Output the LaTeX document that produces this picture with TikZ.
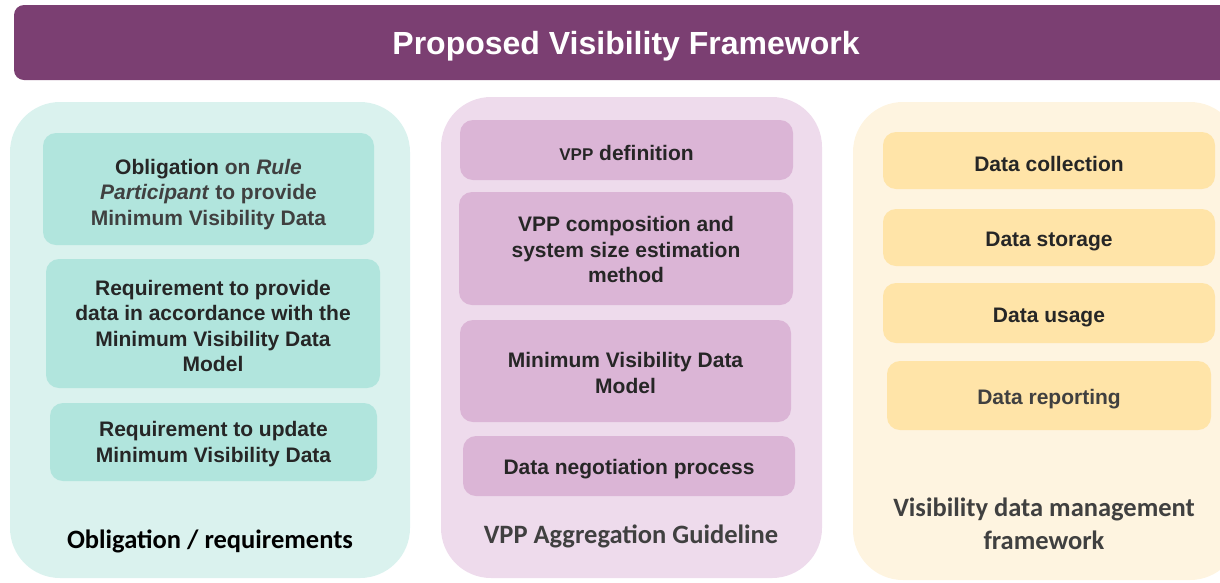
\documentclass[tikz,border=0pt]{standalone}
\usepackage{fontspec}
\setmainfont{Liberation Sans}
\newfontfamily\calib{Carlito}
\definecolor{titlepurple}{HTML}{7B3F72}
\definecolor{tealbg}{HTML}{DAF2EE}
\definecolor{tealbox}{HTML}{B1E5DD}
\definecolor{mauvebg}{HTML}{EEDBEC}
\definecolor{mauvebox}{HTML}{DBB5D6}
\definecolor{sandbg}{HTML}{FEF4E0}
\definecolor{sandbox}{HTML}{FFE4A8}
\definecolor{txtdark}{HTML}{262626}
\definecolor{txtgrey}{HTML}{404040}
\tikzset{
  panel/.style={rounded corners=50pt, inner sep=0pt, draw=none},
  inbox/.style={rounded corners=13pt, inner sep=0pt, align=center, text=txtdark,
    font=\bfseries\fontsize{21}{25.5}\selectfont},
  plabel/.style={align=center, inner sep=0pt, font=\calib\bfseries\fontsize{26.5}{33}\selectfont},
}
\begin{document}
\begin{tikzpicture}[x=1pt,y=-1pt]
\useasboundingbox (0,0) rectangle (1220,582);
\clip (0,0) rectangle (1220,582);
% title
\node[fill=titlepurple, rounded corners=10pt, minimum width=1216pt, minimum height=75pt, inner sep=0pt] (title) at (622,42.5) {};
\node[text=white, font=\bfseries\fontsize{32}{34}\selectfont] (titletxt) at (626,46) {Proposed Visibility Framework};
% left panel
\node[panel, fill=tealbg, minimum width=400pt, minimum height=476pt] (lp) at (210,340) {};
\node[inbox, fill=tealbox, minimum width=331pt, minimum height=112pt] (o1) at (208.5,189) {};
\node[inbox, fill=none] (o1t) at (208.5,194.5)
  {Obligation \textcolor{txtgrey}{on \textit{Rule}}\\ \textcolor{txtgrey}{\textit{Participant} to provide}\\ \textcolor{txtgrey}{Minimum Visibility Data}};
\node[inbox, fill=tealbox, minimum width=334pt, minimum height=129pt] (o2) at (213,323.5) {};
\node[inbox, fill=none] (o2t) at (213,326)
  {Requirement to provide\\ data in accordance with the\\ Minimum Visibility Data\\ Model};
\node[inbox, fill=tealbox, minimum width=327pt, minimum height=78pt] (o3) at (213.5,442) {};
\node[inbox, fill=none] (o3t) at (213.5,444)
  {Requirement to update\\ Minimum Visibility Data};
\node[plabel, text=black] (ol) at (210,541) {Obligation / requirements};
% middle panel
\node[panel, fill=mauvebg, minimum width=381pt, minimum height=481pt] (mp) at (631.5,337.5) {};
\node[inbox, fill=mauvebox, minimum width=333pt, minimum height=60pt] (v1) at (626.5,150) {};
\node[inbox, fill=none] (v1t) at (626.5,152.5)
  {{\fontsize{17}{20}\selectfont VPP} definition};
\node[inbox, fill=mauvebox, minimum width=334pt, minimum height=113pt] (v2) at (626,248.5) {};
\node[inbox, fill=none] (v2t) at (626,249.5)
  {VPP composition and\\ system size estimation\\ method};
\node[inbox, fill=mauvebox, minimum width=331pt, minimum height=102pt] (v3) at (625.5,371) {};
\node[inbox, fill=none] (v3t) at (625.5,373)
  {Minimum Visibility Data\\ Model};
\node[inbox, fill=mauvebox, minimum width=332pt, minimum height=60pt] (v4) at (629,466) {};
\node[inbox, fill=none] (v4t) at (629,469) {Data negotiation process};
\node[plabel, text=txtgrey] (ml) at (631,536) {VPP Aggregation Guideline};
% right panel
\node[panel, fill=sandbg, minimum width=387pt, minimum height=478pt] (rp) at (1046.5,341) {};
\node[inbox, fill=sandbox, minimum width=332pt, minimum height=57pt] (r1) at (1049,160.5) {};
\node[inbox, fill=none] (r1t) at (1049,164) {Data collection};
\node[inbox, fill=sandbox, minimum width=332pt, minimum height=57pt] (r2) at (1049,237.5) {};
\node[inbox, fill=none] (r2t) at (1049,241) {Data storage};
\node[inbox, fill=sandbox, minimum width=332pt, minimum height=60pt] (r3) at (1049,313) {};
\node[inbox, fill=none] (r3t) at (1049,317) {Data usage};
\node[inbox, fill=sandbox, minimum width=324pt, minimum height=69pt] (r4) at (1049,395.5) {};
\node[inbox, fill=none, text=txtgrey] (r4t) at (1049,399) {Data reporting};
\node[plabel, text=txtgrey] (rl) at (1044,524) {Visibility data management\\ framework};
\end{tikzpicture}
\end{document}
